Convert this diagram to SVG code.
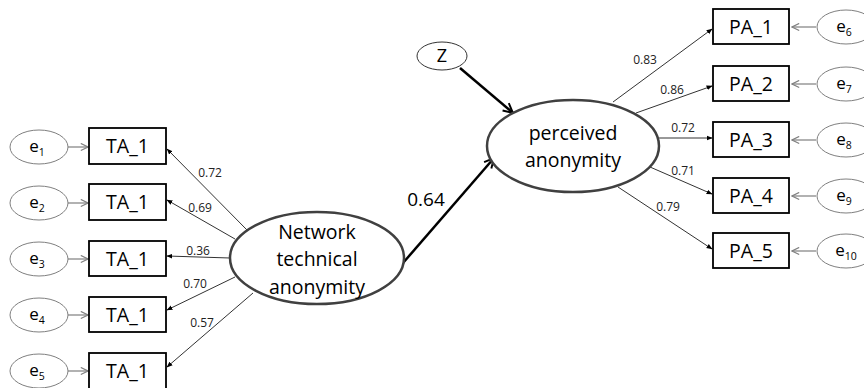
<svg xmlns="http://www.w3.org/2000/svg" width="864" height="388" viewBox="0 0 864 388">
<style>
text{font-family:"Open Sans","Liberation Sans",sans-serif;fill:#000}
.box{fill:#fff;stroke:#000;stroke-width:1.8}
.lat{fill:#fff;stroke:#404040;stroke-width:2.5}
.err{fill:#fff;stroke:#7f7f7f;stroke-width:1}
.ind{font-size:19.5px;text-anchor:middle}
.lt{font-size:19.5px;text-anchor:middle}
.el{font-size:17px;text-anchor:middle}
.sub{font-size:10.5px}
.ld{font-size:12px;text-anchor:middle;fill:#222}
.thin{stroke:#333;stroke-width:1;fill:none}
.thick{stroke:#000;stroke-width:2.5;fill:none}
.gr{stroke:#7f7f7f;stroke-width:1.2;fill:none}
</style>
<defs>
<marker id="tri" viewBox="0 0 10 10" refX="9" refY="5" markerWidth="6" markerHeight="6" orient="auto" markerUnits="userSpaceOnUse">
<path d="M0,1 L10,5 L0,9 z" fill="#000"/>
</marker>
<marker id="open" viewBox="0 0 10 10" refX="9" refY="5" markerWidth="9" markerHeight="9" orient="auto" markerUnits="userSpaceOnUse">
<path d="M1,1 L9,5 L1,9" fill="none" stroke="#7f7f7f" stroke-width="1.3"/>
</marker>
<marker id="bold" viewBox="0 0 10 10" refX="9" refY="5" markerWidth="12" markerHeight="12" orient="auto" markerUnits="userSpaceOnUse">
<path d="M1,1 L9,5 L1,9" fill="none" stroke="#000" stroke-width="1.6"/>
</marker>
</defs>

<g id="connectors">
<!-- loadings of network technical anonymity -->
<line class="thin" x1="247" y1="230" x2="167" y2="149" marker-end="url(#tri)"/>
<line class="thin" x1="235" y1="239" x2="167" y2="200" marker-end="url(#tri)"/>
<line class="thin" x1="230" y1="258" x2="167" y2="256" marker-end="url(#tri)"/>
<line class="thin" x1="235" y1="277" x2="167" y2="310" marker-end="url(#tri)"/>
<line class="thin" x1="253" y1="293" x2="167" y2="367" marker-end="url(#tri)"/>
<!-- loadings of perceived anonymity -->
<line class="thin" x1="613" y1="102" x2="712" y2="29" marker-end="url(#tri)"/>
<line class="thin" x1="636" y1="113" x2="712" y2="86" marker-end="url(#tri)"/>
<line class="thin" x1="657" y1="138" x2="712" y2="138" marker-end="url(#tri)"/>
<line class="thin" x1="650" y1="167" x2="712" y2="194" marker-end="url(#tri)"/>
<line class="thin" x1="618" y1="187" x2="712" y2="249" marker-end="url(#tri)"/>
<!-- structural paths -->
<line class="thick" x1="403" y1="263" x2="494" y2="158" marker-end="url(#bold)"/>
<line class="thick" x1="460" y1="68" x2="513" y2="113" marker-end="url(#bold)"/>
<!-- error terms -->
<line class="gr" x1="68" y1="147" x2="88" y2="147" marker-end="url(#open)"/>
<line class="gr" x1="68" y1="203" x2="88" y2="203" marker-end="url(#open)"/>
<line class="gr" x1="68" y1="259" x2="88" y2="259" marker-end="url(#open)"/>
<line class="gr" x1="68" y1="315" x2="88" y2="315" marker-end="url(#open)"/>
<line class="gr" x1="68" y1="371" x2="88" y2="371" marker-end="url(#open)"/>
<line class="gr" x1="816" y1="27" x2="792" y2="27" marker-end="url(#open)"/>
<line class="gr" x1="816" y1="84" x2="792" y2="84" marker-end="url(#open)"/>
<line class="gr" x1="816" y1="140" x2="792" y2="140" marker-end="url(#open)"/>
<line class="gr" x1="816" y1="196" x2="792" y2="196" marker-end="url(#open)"/>
<line class="gr" x1="816" y1="251" x2="792" y2="251" marker-end="url(#open)"/>
<!-- coefficients -->
<text class="ld" x="210" y="177">0.72</text>
<text class="ld" x="200" y="212">0.69</text>
<text class="ld" x="198" y="255">0.36</text>
<text class="ld" x="195" y="288">0.70</text>
<text class="ld" x="202" y="327">0.57</text>
<text class="ld" x="645" y="64">0.83</text>
<text class="ld" x="672" y="94">0.86</text>
<text class="ld" x="683" y="132">0.72</text>
<text class="ld" x="683" y="175">0.71</text>
<text class="ld" x="668" y="211">0.79</text>
<text x="426" y="206" style="font-size:19px;text-anchor:middle">0.64</text>
</g>

<g id="nta">
<ellipse class="lat" cx="317" cy="258" rx="87" ry="46"/>
<text class="lt" x="317" y="239">Network</text>
<text class="lt" x="317" y="266">technical</text>
<text class="lt" x="317" y="294">anonymity</text>
</g>
<g id="pa">
<ellipse class="lat" cx="573" cy="146" rx="86" ry="46"/>
<text class="lt" x="573" y="140">perceived</text>
<text class="lt" x="573" y="167">anonymity</text>
</g>
<g id="z">
<ellipse cx="442" cy="56" rx="25" ry="14" fill="#fff" stroke="#333" stroke-width="1"/>
<text class="el" x="442" y="62" style="font-size:18px">Z</text>
</g>

<g id="ta1"><rect class="box" x="89" y="128" width="77" height="36"/><text class="ind" x="127.5" y="153">TA_1</text></g>
<g id="ta2"><rect class="box" x="89" y="184" width="77" height="36"/><text class="ind" x="127.5" y="209">TA_1</text></g>
<g id="ta3"><rect class="box" x="89" y="241" width="77" height="35"/><text class="ind" x="127.5" y="265.5">TA_1</text></g>
<g id="ta4"><rect class="box" x="89" y="297" width="77" height="35"/><text class="ind" x="127.5" y="321.5">TA_1</text></g>
<g id="ta5"><rect class="box" x="89" y="353" width="77" height="36"/><text class="ind" x="127.5" y="377.5">TA_1</text></g>

<g id="pa1"><rect class="box" x="713" y="9" width="76" height="35"/><text class="ind" x="751" y="33.5">PA_1</text></g>
<g id="pa2"><rect class="box" x="713" y="66" width="76" height="35"/><text class="ind" x="751" y="90.5">PA_2</text></g>
<g id="pa3"><rect class="box" x="713" y="122" width="76" height="35"/><text class="ind" x="751" y="146.5">PA_3</text></g>
<g id="pa4"><rect class="box" x="713" y="178" width="76" height="35"/><text class="ind" x="751" y="202.5">PA_4</text></g>
<g id="pa5"><rect class="box" x="713" y="233" width="76" height="35"/><text class="ind" x="751" y="257.5">PA_5</text></g>

<g id="e1"><ellipse class="err" cx="39" cy="147" rx="29" ry="17"/><text class="el" x="37" y="152">e<tspan class="sub" dy="4">1</tspan></text></g>
<g id="e2"><ellipse class="err" cx="39" cy="203" rx="29" ry="17"/><text class="el" x="37" y="208">e<tspan class="sub" dy="4">2</tspan></text></g>
<g id="e3"><ellipse class="err" cx="39" cy="259" rx="29" ry="17"/><text class="el" x="37" y="264">e<tspan class="sub" dy="4">3</tspan></text></g>
<g id="e4"><ellipse class="err" cx="39" cy="315" rx="29" ry="17"/><text class="el" x="37" y="320">e<tspan class="sub" dy="4">4</tspan></text></g>
<g id="e5"><ellipse class="err" cx="39" cy="371" rx="29" ry="17"/><text class="el" x="37" y="376">e<tspan class="sub" dy="4">5</tspan></text></g>

<g id="e6"><ellipse class="err" cx="846" cy="27" rx="29" ry="17"/><text class="el" x="844" y="32">e<tspan class="sub" dy="4">6</tspan></text></g>
<g id="e7"><ellipse class="err" cx="846" cy="84" rx="29" ry="17"/><text class="el" x="844" y="89">e<tspan class="sub" dy="4">7</tspan></text></g>
<g id="e8"><ellipse class="err" cx="846" cy="140" rx="29" ry="17"/><text class="el" x="844" y="145">e<tspan class="sub" dy="4">8</tspan></text></g>
<g id="e9"><ellipse class="err" cx="846" cy="196" rx="29" ry="17"/><text class="el" x="844" y="201">e<tspan class="sub" dy="4">9</tspan></text></g>
<g id="e10"><ellipse class="err" cx="846" cy="251" rx="29" ry="17"/><text class="el" x="846" y="256">e<tspan class="sub" dy="4">10</tspan></text></g>
</svg>
